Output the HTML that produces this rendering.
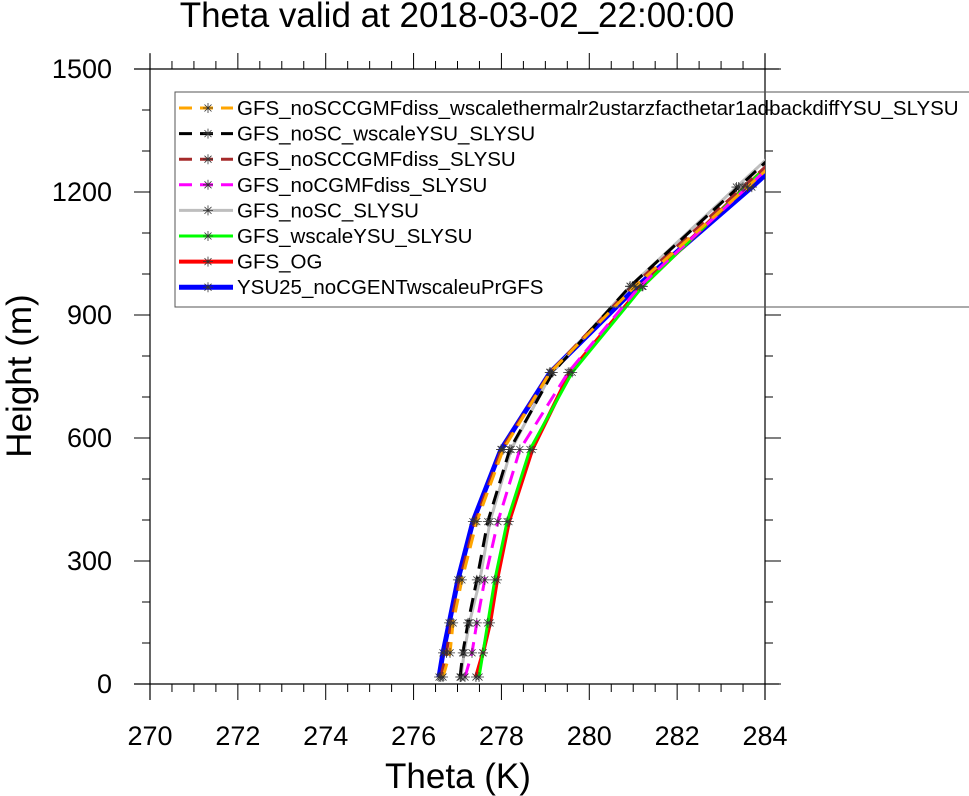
<!DOCTYPE html>
<html><head><meta charset="utf-8"><style>
html,body{margin:0;padding:0;background:#fff;}
svg{display:block;font-family:"Liberation Sans",sans-serif;}
</style></head><body>
<svg id="chart" width="969" height="796" viewBox="0 0 969 796" xmlns="http://www.w3.org/2000/svg">
<text x="457" y="27" font-size="35" text-anchor="middle">Theta valid at 2018-03-02_22:00:00</text>
<defs><clipPath id="plotclip"><rect x="150" y="69" width="615" height="615"/></clipPath></defs>
<g id="axes"></g>
<g id="series" clip-path="url(#plotclip)"></g>
<g id="legend"></g>
<text x="458" y="788" font-size="35" text-anchor="middle">Theta (K)</text>
<text transform="translate(31,376) rotate(-90)" font-size="35" text-anchor="middle">Height (m)</text>
</svg>
<script>
const heights = [17, 76, 149, 254, 396, 572, 760, 970, 1212, 1450];
const seriesNames = ["GFS_noSCCGMFdiss_wscalethermalr2ustarzfacthetar1adbackdiffYSU_SLYSU","GFS_noSC_wscaleYSU_SLYSU","GFS_noSCCGMFdiss_SLYSU","GFS_noCGMFdiss_SLYSU","GFS_noSC_SLYSU","GFS_wscaleYSU_SLYSU","GFS_OG","YSU25_noCGENTwscaleuPrGFS"];
const thetaOrange  = [276.67, 276.83, 276.90, 277.10, 277.44, 278.04, 279.11, 281.04, 283.60, 286.05];
const thetaBlack   = [277.06, 277.12, 277.24, 277.44, 277.69, 278.19, 279.17, 280.93, 283.40, 285.80];
const thetaBrown   = [276.62, 276.75, 276.85, 277.05, 277.40, 278.00, 279.10, 280.98, 283.50, 285.95];
const thetaMagenta = [277.17, 277.33, 277.44, 277.62, 277.92, 278.42, 279.52, 281.15, 283.60, 286.00];
const thetaGray    = [277.08, 277.15, 277.27, 277.51, 277.74, 278.22, 279.15, 280.93, 283.35, 285.75];
const thetaGreen   = [277.49, 277.58, 277.69, 277.85, 278.13, 278.65, 279.61, 281.22, 283.55, 285.90];
const thetaRed     = [277.42, 277.58, 277.74, 277.90, 278.17, 278.70, 279.56, 281.20, 283.55, 285.95];
const thetaBlue    = [276.58, 276.67, 276.81, 277.01, 277.35, 277.99, 279.11, 281.09, 283.70, 286.15];
const xTicks = [270, 272, 274, 276, 278, 280, 282, 284];
const yTicks = [0, 300, 600, 900, 1200, 1500];

const NS = "http://www.w3.org/2000/svg";
const X0=150, X1=765, Y0=684, Y1=69;
function sx(t){ return X0 + (t-270)/14*(X1-X0); }
function sy(h){ return Y0 - h/1500*(Y0-Y1); }
function mk(tag, attrs, parent){ const e=document.createElementNS(NS,tag); for(const k in attrs) e.setAttribute(k,attrs[k]); parent.appendChild(e); return e; }

const axes=document.getElementById('axes');
const frame = mk('path',{d:`M134 ${Y0}H779M${X0} ${Y0+16}V54M134 ${Y1}H779M${X1} 54V${Y0+16}`,stroke:'#000','stroke-width':1.2,fill:'none'},axes);


for(let t=270;t<=284.001;t+=0.5){
  const major = Math.abs(t-Math.round(t/2)*2)<1e-6;
  const L = major?16:8;
  const tk=mk('path',{d:`M${sx(t)} ${Y0}v${L}M${sx(t)} ${Y1}v${-L}`,stroke:'#000','stroke-width':1},axes);
  
  
}
for(let h=0;h<=1500;h+=100){
  const major = h%300===0;
  const L = major?16:8;
  const tk=mk('path',{d:`M${X0} ${sy(h)}h${-L}M${X1} ${sy(h)}h${L}`,stroke:'#000','stroke-width':1},axes);
  
  
}
xTicks.forEach(t=>{
  const tx=mk('text',{x:sx(t),y:745,'font-size':27,'text-anchor':'middle'},axes);
  tx.textContent=t;
  
  
});
yTicks.forEach(h=>{
  const tx=mk('text',{x:112,y:sy(h)+9,'font-size':27,'text-anchor':'end'},axes);
  tx.textContent=h;
  
  
});

const styles=[
 {data:thetaOrange,color:'#ffa500',w:3,dash:'14 8'},
 {data:thetaBlack,color:'#000000',w:3,dash:'14 8'},
 {data:thetaBrown,color:'#a52a2a',w:3,dash:'14 8'},
 {data:thetaMagenta,color:'#ff00ff',w:3,dash:'14 8'},
 {data:thetaGray,color:'#bebebe',w:3,dash:''},
 {data:thetaGreen,color:'#00ff00',w:3,dash:''},
 {data:thetaRed,color:'#ff0000',w:4,dash:''},
 {data:thetaBlue,color:'#0000ff',w:5,dash:''}
];
function star(g,x,y,r){
  const p=mk('path',{d:`M${x-r} ${y}H${x+r}M${x} ${y-r}V${y+r}M${x-r*0.7} ${y-r*0.7}L${x+r*0.7} ${y+r*0.7}M${x-r*0.7} ${y+r*0.7}L${x+r*0.7} ${y-r*0.7}`,stroke:'#333','stroke-width':0.8,fill:'none'},g);
  
  
}
const sg=document.getElementById('series');
for(let i=styles.length-1;i>=0;i--){
  const s=styles[i];
  const g=mk('g',{},sg);
  
  
  const d=s.data.map((t,j)=>(j?'L':'M')+sx(t).toFixed(1)+' '+sy(heights[j]).toFixed(1)).join('');
  const ln=mk('path',{d:d,stroke:s.color,'stroke-width':s.w,fill:'none','stroke-dasharray':s.dash,'stroke-linejoin':'round'},g);
  
  
  s.data.forEach((t,j)=>star(g,sx(t),sy(heights[j]),5));
}
const lg=document.getElementById('legend');


mk('rect',{x:175,y:92,width:820,height:215,fill:'none',stroke:'#555','stroke-width':1},lg);
styles.forEach((s,i)=>{
  const y=108+i*25.6;
  const g=mk('g',{},lg);
  
  
  mk('line',{x1:179,y1:y,x2:233,y2:y,stroke:s.color,'stroke-width':s.w,'stroke-dasharray':s.dash?'13 8':''},g);
  star(g,208,y,5);
  const tx=mk('text',{x:237,y:y+7,'font-size':20.5},g);
  tx.textContent=seriesNames[i];
});
</script>
</body></html>
